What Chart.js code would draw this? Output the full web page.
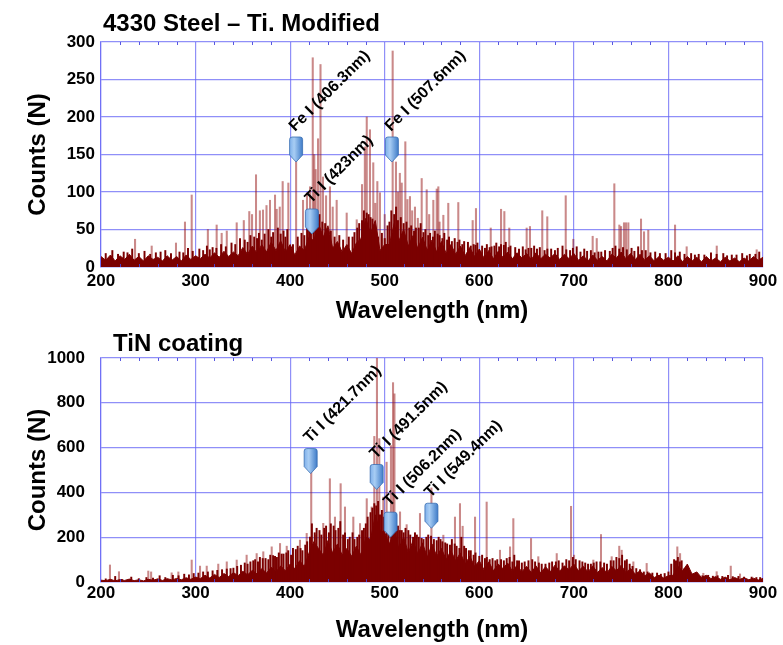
<!DOCTYPE html>
<html><head><meta charset="utf-8">
<script src="https://cdn.jsdelivr.net/npm/chart.js@4.4.0/dist/chart.umd.min.js"></script>
<style>
html,body{margin:0;padding:0;background:#fff;}
#wrap{position:relative;width:783px;height:645px;overflow:hidden;}
canvas{position:absolute;left:0;}
</style></head><body>
<div id="wrap">
<canvas id="steel" width="783" height="328" style="top:0"></canvas>
<canvas id="tin" width="783" height="317" style="top:328px"></canvas>
</div>
<script>
// ---------- DATA ----------
const BULK_START = 200, BULK_STEP = 5;   // wavelength grid (nm) of the dense emission floor
const xTicksNm = [200, 300, 400, 500, 600, 700, 800, 900];

// 4330 Steel – Ti. Modified : dense floor (counts), 200..900 nm every 5 nm
const steelBulk = [14,
 9,16,8,15,10,17,9,14,8,15,10,13,8,15,9,14,8,16,10,15,
 11,17,12,19,13,21,14,20,15,26,17,28,18,30,20,33,22,35,20,30,
 16,28,22,40,35,58,40,55,25,34,20,30,18,32,38,65,45,62,22,30,
 30,58,35,50,28,42,25,40,22,36,20,34,18,30,17,28,15,26,14,24,
 12,22,11,21,13,20,11,19,12,18,10,19,11,17,12,18,10,17,11,18,
 9,15,8,16,9,14,8,17,12,20,11,18,10,17,9,15,8,14,9,13,
 8,15,7,14,8,13,7,14,8,12,7,13,8,12,7,12,8,14,9,13];
// dark (dense) spikes [nm, counts]
const steelDark = [[205,18],[212,22],[218,17],[224,20],[228,19],[233,24],[240,18],[246,21],[252,17],[258,19],[263,20],[268,22],[274,18],[283,20],[287,19],[292,25],[297,21],[304,24],[308,22],[312,28],[315,23],[318,26],[322,25],[327,30],[332,27],[338,32],[342,30],[347,38],[352,36],[355,33],[358,42],[362,40],[365,38],[367,45],[370,36],[373,44],[377,50],[380,40],[382,46],[387,52],[390,44],[393,48],[395,40],[397,50],[403,30],[408,40],[412,45],[415,42],[418,52],[420,55],[422,60],[425,62],[427,65],[429,68],[431,70],[434,60],[437,58],[440,45],[443,48],[447,40],[452,42],[456,36],[462,40],[466,40],[468,46],[471,52],[473,58],[476,62],[478,75],[481,72],[483,70],[485,66],[487,64],[490,50],[493,40],[497,45],[500,38],[503,55],[505,60],[507,75],[510,70],[512,80],[514,62],[517,66],[520,58],[523,60],[526,52],[528,55],[531,48],[533,52],[536,52],[538,58],[541,46],[543,50],[546,42],[548,45],[551,40],[553,48],[556,44],[558,42],[561,38],[563,45],[566,36],[568,40],[571,34],[574,38],[577,33],[579,36],[582,30],[584,34],[588,33],[591,28],[594,30],[596,29],[598,32],[603,28],[606,25],[608,30],[611,26],[613,27],[616,28],[618,32],[621,27],[623,30],[626,29],[628,33],[631,26],[633,28],[638,26],[642,24],[646,27],[649,23],[652,25],[655,25],[658,28],[661,24],[664,26],[669,22],[672,24],[676,24],[680,22],[683,25],[688,28],[692,23],[696,22],[699,25],[703,27],[707,20],[711,24],[714,21],[718,22],[722,19],[726,20],[729,20],[733,22],[738,21],[741,25],[744,28],[748,24],[752,26],[756,23],[761,25],[764,21],[768,27],[772,22],[776,22],[781,19],[786,20],[791,18],[797,18],[803,22],[807,19],[812,20],[817,17],[824,18],[828,16],[832,17],[838,16],[845,19],[851,17],[858,18],[862,15],[867,16],[872,16],[878,18],[883,15],[886,17],[892,17],[896,20]];
// isolated emission lines [nm, counts]
const steelLines = [[236.0,37],[253.6,28],[279.3,32],[288.8,60],[295.9,96],[313,50],[322.3,56],[327.6,45],[333,48],[343.5,59],[351,62],[356.8,74],[359.7,70],[363.9,123],[368,75],[371.3,76],[375,82],[378.7,89],[384.0,96],[385.8,77],[389,80],[392.1,114],[398.1,112],[406.3,150],[413.6,89],[417.8,99],[421.0,107],[423.9,279],[425.5,150],[427,130],[429.5,171],[432.1,270],[434.7,120],[438,95],[442.1,107],[445,80],[449.2,89],[459.8,72],[470.4,63],[476,110],[479,160],[481.0,200],[484.4,183],[487.9,139],[490,85],[492.2,114],[495.0,99],[500,70],[508.4,288],[511.9,140],[514,100],[516,125],[518.0,112],[521.8,167],[524,90],[526.7,94],[529,75],[532.0,80],[535,65],[539.1,118],[544.4,103],[547,70],[551.4,89],[555.0,104],[556.7,107],[558,60],[562.0,69],[567.2,85],[577.8,86],[593.0,62],[596.5,78],[612.1,52],[623.0,77],[626.5,74],[631.7,52],[650.1,52],[653.6,54],[666.6,75],[671.9,67],[691.4,95],[699.4,37],[719.9,41],[724.2,38],[742.8,111],[748.1,56],[749.9,54],[753.0,59],[755.1,59],[757.6,59],[771.0,64],[774.2,47],[778.7,49],[807.0,56],[819.3,27],[851.1,28],[893.3,23]];
// marked lines [nm, arrow tip (counts), label]
const steelMarks = [[406.3,140,'Fe I (406.3nm)'],[423,44,'Ti I (423nm)'],[507.6,140,'Fe I (507.6nm)']];
const steelYTicks = [0,50,100,150,200,250,300];

// TiN coating
const tinBulk = [8,
 6,12,5,11,7,13,6,10,5,12,8,14,7,15,9,16,10,19,12,22,
 15,30,18,34,20,38,24,42,28,48,32,52,36,60,40,66,45,72,50,80,
 60,95,70,130,180,150,120,185,130,170,120,150,115,160,120,200,190,300,230,220,
 170,230,150,200,130,185,125,175,110,170,115,150,100,140,95,130,80,115,70,95,
 55,90,50,80,60,85,48,75,45,70,42,72,40,68,45,75,48,72,55,80,
 50,70,45,72,42,65,40,70,50,75,42,60,35,50,28,40,20,30,18,28,
 30,70,50,80,35,45,20,30,15,24,12,22,10,20,11,19,10,17,9,16];
const tinDark = [[205,14],[215,25],[222,12],[232,22],[240,15],[248,20],[255,18],[262,28],[268,20],[276,30],[282,28],[288,35],[293,32],[298,38],[303,40],[308,45],[313,45],[318,50],[323,52],[328,55],[333,58],[337,60],[340,62],[344,70],[348,75],[352,85],[355,80],[358,90],[361,95],[363,100],[366,90],[368,110],[371,105],[374,105],[377,100],[379,120],[382,118],[384,115],[386,110],[388,130],[391,125],[393,125],[396,130],[398,140],[401,120],[403,150],[406,145],[408,160],[411,150],[413,140],[416,165],[418,180],[421,200],[423,260],[426,220],[428,240],[431,230],[433,210],[436,240],[438,250],[441,220],[443,260],[446,250],[448,230],[451,240],[453,270],[456,210],[458,220],[461,190],[463,200],[466,220],[468,190],[471,200],[473,210],[476,230],[478,240],[480,260],[482,290],[485,310],[487,330],[489,350],[491,340],[493,360],[495,300],[497,320],[499,290],[502,280],[504,270],[507,300],[509,280],[511,260],[513,240],[514,250],[516,230],[518,230],[520,220],[522,240],[525,230],[527,210],[530,200],[532,220],[534,210],[536,200],[539,195],[541,190],[544,200],[546,210],[549,205],[552,190],[555,185],[557,200],[559,190],[561,180],[564,175],[566,170],[569,165],[571,190],[574,170],[576,160],[579,150],[581,200],[584,160],[586,150],[589,140],[591,140],[594,120],[596,130],[600,115],[603,120],[606,105],[608,110],[611,100],[614,105],[617,95],[619,100],[623,100],[626,95],[629,105],[632,110],[635,90],[637,120],[640,95],[642,95],[645,85],[648,90],[652,95],[656,100],[659,90],[663,85],[666,80],[670,80],[674,85],[677,90],[681,90],[684,95],[688,85],[692,100],[695,95],[699,110],[702,100],[706,95],[709,90],[712,85],[715,80],[718,80],[721,85],[724,90],[728,90],[732,85],[735,80],[739,95],[742,95],[745,110],[748,105],[751,120],[754,95],[756,100],[759,80],[762,70],[766,60],[770,55],[774,45],[778,45],[783,40],[788,40],[792,35],[796,38],[800,45],[803,80],[806,100],[808,95],[810,110],[812,90],[814,95],[817,60],[820,50],[825,35],[830,35],[836,28],[842,30],[847,26],[852,28],[857,25],[863,30],[868,24],[874,25],[880,22],[888,22],[893,20],[897,20]];
const tinLines = [[209.5,76],[219,46],[250,49],[253,45],[274.7,41],[281.8,45],[295.9,98],[304.7,71],[311.8,71],[324,80],[333,90],[343.5,98],[354,120],[364.6,127],[371.6,135],[380.5,157],[389.3,172],[396.4,160],[410.4,187],[417.5,217],[422.3,560],[426.3,209],[435,262],[442,461],[447.4,290],[453.4,439],[458,335],[466.8,290],[473.9,261],[481,372],[486.2,335],[489,650],[491.8,1000],[494.3,640],[498.5,379],[502,535],[506.6,609],[508.8,890],[510.3,840],[516.2,313],[523.2,256],[530.2,187],[537.3,306],[549.4,420],[562,209],[574.3,290],[579.6,350],[582.4,249],[595.5,290],[607.8,357],[621.9,142],[632.5,157],[636,283],[654.7,194],[662.4,113],[681.9,127],[697,338],[700.2,120],[720.6,98],[728.7,212],[740,113],[748,160],[750.6,142],[762.9,90],[777,83],[809.4,157],[812.3,127],[836.9,39],[851,46],[865.9,71],[875.7,36]];
const tinMarks = [[421.7,484,'Ti I (421.7nm)'],[491.5,413,'Ti I (491.5nm)'],[506.2,200,'Ti I (506.2nm)'],[549.4,240,'Ti I (549.4nm)']];
const tinYTicks = [0,200,400,600,800,1000];

// ---------- DRAWING ----------
const FONT = "'Liberation Sans', Arial, Helvetica, sans-serif";
const DARK = '#7b0000';
const LIGHT = 'rgba(150,20,20,0.5)';
const GRID = 'rgba(100,100,245,0.72)';

function drawMarker(ctx, cx, tipY) {
  const w = 13, h = 25, pt = 7, r = 2.5;
  const top = tipY - h, l = cx - w / 2, rt = cx + w / 2;
  ctx.beginPath();
  ctx.moveTo(l, top + r);
  ctx.quadraticCurveTo(l, top, l + r, top);
  ctx.lineTo(rt - r, top);
  ctx.quadraticCurveTo(rt, top, rt, top + r);
  ctx.lineTo(rt, tipY - pt);
  ctx.lineTo(cx, tipY);
  ctx.lineTo(l, tipY - pt);
  ctx.closePath();
  const g = ctx.createLinearGradient(l, 0, rt, 0);
  g.addColorStop(0, '#7fb0ea');
  g.addColorStop(0.35, '#a8cdf4');
  g.addColorStop(1, '#3f7cc8');
  ctx.fillStyle = g;
  ctx.fill();
  ctx.lineWidth = 0.8;
  ctx.strokeStyle = '#3a6fb3';
  ctx.stroke();
}

function makePlugin(cfg) {
  return {
    id: 'deco_' + cfg.id,
    afterDatasetsDraw(chart) {
      const { ctx, scales: { x, y }, chartArea: a } = chart;
      ctx.save();
      ctx.strokeStyle = 'rgba(70,70,220,0.9)';
      ctx.lineWidth = 1;
      for (let nm = 220; nm < 900; nm += 20) {
        if (nm % 100 === 0) continue;
        const px = Math.round(x.getPixelForValue(nm)) + 0.5;
        ctx.beginPath();
        ctx.moveTo(px, a.top); ctx.lineTo(px, a.top + 3);
        ctx.moveTo(px, a.bottom); ctx.lineTo(px, a.bottom - 3);
        ctx.stroke();
      }
      cfg.marks.forEach(m => {
        const cx = x.getPixelForValue(m[0]);
        const tip = y.getPixelForValue(m[1]);
        drawMarker(ctx, cx, tip);
        ctx.save();
        ctx.translate(cx - 1, tip - 25 - 5);
        ctx.rotate(-Math.PI / 4);
        ctx.font = 'bold 16px ' + FONT;
        ctx.fillStyle = '#000';
        ctx.textBaseline = 'alphabetic';
        ctx.textAlign = 'left';
        ctx.fillText(m[2], 0, 0);
        ctx.restore();
      });
      ctx.restore();
    },
    afterDraw(chart) {
      const ctx = chart.ctx;
      ctx.save();
      ctx.font = 'bold 24px ' + FONT;
      ctx.fillStyle = '#000';
      ctx.textBaseline = 'alphabetic';
      ctx.fillText(cfg.title, cfg.titleX, cfg.titleY);
      ctx.restore();
    }
  };
}

function makeChart(cfg) {
  const bulk = cfg.bulk.map((v, i) => ({ x: BULK_START + i * BULK_STEP, y: v }));
  const tickFont = { family: FONT, size: 17, weight: 'bold' };
  const titleFont = { family: FONT, size: 24, weight: 'bold' };
  return new Chart(document.getElementById(cfg.id), {
    type: 'bar',
    data: {
      datasets: [
        { type: 'bar', data: cfg.lines.map(p => ({ x: p[0], y: p[1] })), backgroundColor: LIGHT,
          borderWidth: 0, barThickness: 1.4, grouped: false, order: 3 },
        { type: 'line', data: bulk, borderColor: DARK, backgroundColor: DARK, borderWidth: 1,
          pointRadius: 0, fill: 'origin', tension: 0, order: 2 },
        { type: 'bar', data: cfg.dark.map(p => ({ x: p[0], y: p[1] })), backgroundColor: DARK,
          borderWidth: 0, barThickness: 1.3, grouped: false, order: 1 }
      ]
    },
    options: {
      responsive: false,
      animation: false,
      events: [],
      layout: { padding: { top: cfg.padTop, right: 20, bottom: 0, left: 0 } },
      plugins: { legend: { display: false }, tooltip: { enabled: false }, title: { display: false } },
      scales: {
        x: {
          type: 'linear', min: 200, max: 900, offset: false,
          afterBuildTicks: s => { s.ticks = xTicksNm.map(v => ({ value: v })); },
          grid: { color: GRID, lineWidth: 1.2, drawTicks: false, offset: false },
          border: { color: GRID, width: 1.2 },
          ticks: { padding: cfg.xPad, color: '#000', font: tickFont, maxRotation: 0, autoSkip: false,
                   callback: v => String(v) },
          title: { display: true, text: 'Wavelength (nm)', color: '#000', font: titleFont, padding: { top: 0, bottom: cfg.xTitlePad } },
          afterFit: s => { s.height = cfg.xH; }
        },
        y: {
          min: 0, max: cfg.yMax,
          afterBuildTicks: s => { s.ticks = cfg.yTicks.map(v => ({ value: v })); },
          grid: { color: GRID, lineWidth: 1.2, drawTicks: false },
          border: { color: GRID, width: 1.2 },
          ticks: { padding: cfg.yPad, color: '#000', font: tickFont, autoSkip: false,
                   callback: v => String(v) },
          title: { display: true, text: 'Counts (N)', color: '#000', font: titleFont, padding: { top: 24, bottom: 0 } },
          afterFit: s => { s.width = 101; }
        }
      }
    },
    plugins: [makePlugin(cfg)]
  });
}

makeChart({ id: 'steel', bulk: steelBulk, dark: steelDark, lines: steelLines, marks: steelMarks,
  yMax: 300, yTicks: steelYTicks, padTop: 42, xH: 61, xPad: 4, xTitlePad: 2, yPad: 6,
  title: '4330 Steel \u2013 Ti. Modified', titleX: 103, titleY: 31 });
makeChart({ id: 'tin', bulk: tinBulk, dark: tinDark, lines: tinLines, marks: tinMarks,
  yMax: 1000, yTicks: tinYTicks, padTop: 30, xH: 63, xPad: 1, xTitlePad: 0, yPad: 16,
  title: 'TiN coating', titleX: 113, titleY: 23 });
</script>
</body></html>
